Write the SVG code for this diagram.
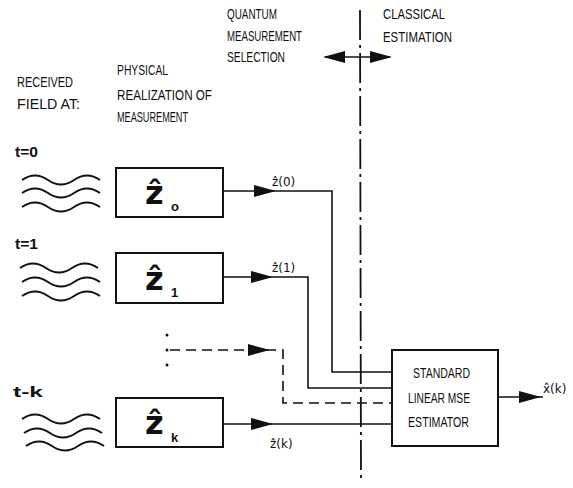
<svg xmlns="http://www.w3.org/2000/svg" width="573" height="488" viewBox="0 0 573 488">
<style>
.t{font-family:"Liberation Sans",Arial,sans-serif;font-size:14px;fill:#111}
.tb{font-family:"Liberation Sans",Arial,sans-serif;font-size:14px;font-weight:bold;fill:#111}
.z{font-family:"DejaVu Sans","Liberation Sans",sans-serif;font-size:32px;font-weight:bold;fill:#111}
.sub{font-family:"Liberation Sans",Arial,sans-serif;font-size:13px;font-weight:bold;fill:#111}
.lab{font-family:"DejaVu Sans","Liberation Sans",sans-serif;font-size:12px;fill:#111}
.box{fill:#fff;stroke:#111;stroke-width:2}
.ln{fill:none;stroke:#111;stroke-width:1.6}
.dash{fill:none;stroke:#111;stroke-width:1.6;stroke-dasharray:10,6}
.wave{fill:none;stroke:#111;stroke-width:2}
.ah{fill:#111}
</style>
<defs>
<path id="wv" d="M0,0 q13,-9 26,0 t26,0 t26,0"/>
<path id="ar" d="M-22,-6 L0,0 L-22,6 Z"/>
<path id="al" d="M22,-6 L0,0 L22,6 Z"/>
</defs>

<g id="header-labels">
<text class="t" x="227" y="19" textLength="50" lengthAdjust="spacingAndGlyphs">QUANTUM</text>
<text class="t" x="227" y="41" textLength="75" lengthAdjust="spacingAndGlyphs">MEASUREMENT</text>
<text class="t" x="227" y="62" textLength="58" lengthAdjust="spacingAndGlyphs">SELECTION</text>
<text class="t" x="383" y="19" textLength="62" lengthAdjust="spacingAndGlyphs">CLASSICAL</text>
<text class="t" x="383" y="42" textLength="69" lengthAdjust="spacingAndGlyphs">ESTIMATION</text>
<text class="t" x="17" y="87" textLength="56" lengthAdjust="spacingAndGlyphs">RECEIVED</text>
<text class="t" x="17" y="109" textLength="63" lengthAdjust="spacingAndGlyphs">FIELD AT:</text>
<text class="t" x="117" y="75" textLength="51" lengthAdjust="spacingAndGlyphs">PHYSICAL</text>
<text class="t" x="117" y="100" textLength="95" lengthAdjust="spacingAndGlyphs">REALIZATION OF</text>
<text class="t" x="117" y="122" textLength="71" lengthAdjust="spacingAndGlyphs">MEASUREMENT</text>
</g>

<g id="boundary">
<line x1="360" y1="10" x2="361" y2="482" stroke="#111" stroke-width="1.8" stroke-dasharray="30,5,3,5"/>
<line class="ln" x1="325" y1="57" x2="390" y2="57"/>
<use href="#al" class="ah" x="323" y="57"/>
<use href="#ar" class="ah" x="392" y="57"/>
</g>

<g id="field-0">
<text class="tb" x="15" y="157" textLength="23" lengthAdjust="spacingAndGlyphs">t=0</text>
<use href="#wv" class="wave" x="22" y="180"/>
<use href="#wv" class="wave" x="22" y="193"/>
<use href="#wv" class="wave" x="22" y="207"/>
</g>
<g id="field-1">
<text class="tb" x="15" y="249" textLength="23" lengthAdjust="spacingAndGlyphs">t=1</text>
<use href="#wv" class="wave" x="20" y="268"/>
<use href="#wv" class="wave" x="22" y="282"/>
<use href="#wv" class="wave" x="22" y="296"/>
</g>
<g id="field-k">
<text class="tb" x="13" y="397" textLength="30" lengthAdjust="spacingAndGlyphs">t-k</text>
<use href="#wv" class="wave" x="22" y="419"/>
<use href="#wv" class="wave" x="24" y="433"/>
<use href="#wv" class="wave" x="26" y="446"/>
</g>

<g id="meas-0">
<rect class="box" x="116" y="168" width="107" height="49"/>
<text class="z" x="145" y="204">ẑ</text>
<text class="sub" x="171" y="211">o</text>
</g>
<g id="meas-1">
<rect class="box" x="116" y="253" width="107" height="50"/>
<text class="z" x="145" y="290">ẑ</text>
<text class="sub" x="171" y="297">1</text>
</g>
<g id="meas-k">
<rect class="box" x="116" y="398" width="107" height="49"/>
<text class="z" x="145" y="434">ẑ</text>
<text class="sub" x="171" y="442">k</text>
</g>

<g id="estimator">
<rect class="box" x="392" y="350" width="106" height="96"/>
<text class="t" x="413" y="378" textLength="57" lengthAdjust="spacingAndGlyphs">STANDARD</text>
<text class="t" x="408" y="403" textLength="62" lengthAdjust="spacingAndGlyphs">LINEAR MSE</text>
<text class="t" x="408" y="427" textLength="61" lengthAdjust="spacingAndGlyphs">ESTIMATOR</text>
</g>

<g id="connectors">
<path class="ln" d="M223,191 H332 V372 H392"/>
<use href="#ar" class="ah" x="276" y="191"/>
<text class="lab" x="272" y="186">ẑ(0)</text>
<path class="ln" d="M223,277 H308 V388 H392"/>
<use href="#ar" class="ah" x="273" y="277"/>
<text class="lab" x="272" y="272">ẑ(1)</text>
<circle cx="167" cy="335" r="1.5" fill="#111"/>
<circle cx="167" cy="350" r="1.5" fill="#111"/>
<circle cx="167" cy="365" r="1.5" fill="#111"/>
<path class="dash" d="M170,350 H283 V403 H392"/>
<use href="#ar" class="ah" x="270" y="350"/>
<path class="ln" d="M223,424 H392"/>
<use href="#ar" class="ah" x="273" y="424"/>
<text class="lab" x="270" y="448">ẑ(k)</text>
<path class="ln" d="M498,397 H543"/>
<use href="#ar" class="ah" x="541" y="397"/>
<text class="lab" x="543" y="393">x̂(k)</text>
</g>
</svg>
